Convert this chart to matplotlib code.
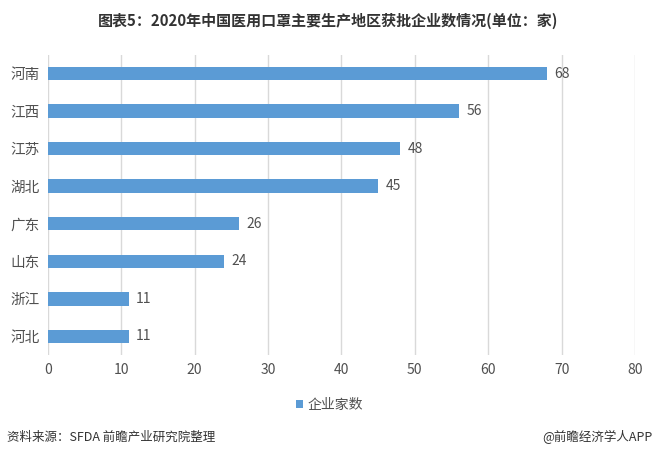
import matplotlib.pyplot as plt

plt.rcParams['font.family'] = ['Noto Sans CJK SC', 'DejaVu Sans']

# data
regions = ['河南', '江西', '江苏', '湖北', '广东', '山东', '浙江', '河北']
counts = [68, 56, 48, 45, 26, 24, 11, 11]
xticks = [0, 10, 20, 30, 40, 50, 60, 70, 80]

bar_color = '#5B9BD5'
text_grey = '#505050'

fig = plt.figure(figsize=(6.56, 4.57), dpi=100)
ax = fig.add_axes([0.073, 0.223, 0.895, 0.657])

y = list(range(len(regions)))
ax.barh(y, counts, height=0.36, color=bar_color, label='企业家数', zorder=3)
for yi, v in zip(y, counts):
    ax.text(v + 1, yi, str(v), va='center', ha='left', fontsize=10, color=text_grey)

ax.set_ylim(len(regions) - 0.5, -0.5)
ax.set_yticks(y)
ax.set_yticklabels(regions, fontsize=10.5, color=text_grey)
ax.set_xlim(0, 80)
ax.set_xticks(xticks)
ax.set_xticklabels([str(t) for t in xticks], fontsize=10, color=text_grey)
ax.tick_params(length=0, pad=6)
ax.xaxis.grid(True, color='#D9D9D9', linewidth=1, zorder=0)
for s in ax.spines.values():
    s.set_visible(False)

fig.text(0.5, 0.955, '图表5：2020年中国医用口罩主要生产地区获批企业数情况(单位：家)',
         ha='center', va='center', fontsize=10.8, fontweight='bold', color='#333333')

ax.legend(loc='upper center', bbox_to_anchor=(0.5 - 0.02, -0.10), frameon=False,
          fontsize=10, handlelength=0.5, handleheight=0.5, handletextpad=0.3,
          labelcolor=text_grey)

fig.text(0.01, 0.043, '资料来源：SFDA 前瞻产业研究院整理', ha='left', va='center',
         fontsize=9, color='#333333')
fig.text(0.995, 0.043, '@前瞻经济学人APP', ha='right', va='center',
         fontsize=9, color='#333333')

plt.savefig('out.png', dpi=100)
